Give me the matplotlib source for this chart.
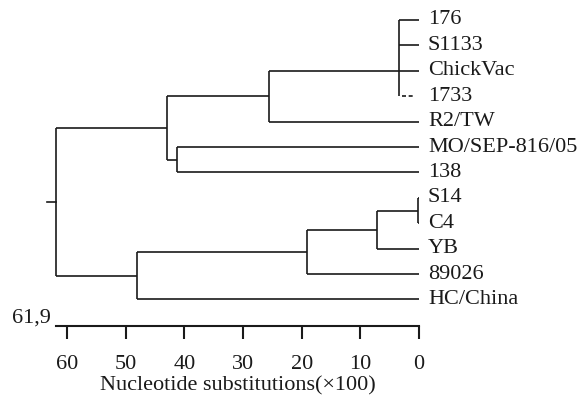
import matplotlib
matplotlib.use("Agg")
import matplotlib.pyplot as plt
from matplotlib.transforms import offset_copy

plt.rcParams['font.family'] = ['Liberation Serif', 'DejaVu Serif']

# leaves, top to bottom
leaves = ["176", "S1133", "ChickVac", "1733", "R2/TW", "MO/SEP-816/05", "138",
          "S14", "C4", "YB", "89026", "HC/China"]
# internal nodes: (name, children, height in substitutions x100)
node_names = ["A", "B", "C", "D", "E", "F", "G", "H", "root"]
node_children = [["176", "S1133", "ChickVac", "1733"], ["A", "R2/TW"], ["MO/SEP-816/05", "138"],
                 ["B", "C"], ["S14", "C4"], ["E", "YB"], ["F", "89026"], ["G", "HC/China"], ["D", "H"]]
node_heights = [3.4, 25.5, 41.2, 43.0, 0.2, 7.2, 19.1, 48.1, 61.9]
# node A attaches at the level of ChickVac
node_anchor = {"A": "ChickVac"}
dashed_leaves = ["1733"]
dashed_tip = 0.9
root_stub = 63.4
scale_max = 61.9
scale_ticks = [0, 10, 20, 30, 40, 50, 60]

fig = plt.figure(figsize=(5.88, 3.96), dpi=100)
ax = fig.add_axes([0, 0, 1, 1])
ax.set_xlim(71.4, -28.8)
ax.set_ylim(14.8, -0.787)

lw = 1.2
col = "#1a1a1a"
fs = 16
ypos = {name: i for i, name in enumerate(leaves)}
xpos = {name: 0.0 for name in leaves}
for name, ch, h in zip(node_names, node_children, node_heights):
    ys = [ypos[c] for c in ch]
    ax.plot([h, h], [min(ys), max(ys)], color=col, lw=lw, solid_capstyle='butt')
    for c in ch:
        if c in dashed_leaves:
            ax.plot([h - 0.5, dashed_tip], [ypos[c], ypos[c]], color=col, lw=lw,
                    linestyle=(0, (2.4, 1.6)), dash_capstyle='butt')
        else:
            ax.plot([h, xpos[c]], [ypos[c], ypos[c]], color=col, lw=lw, solid_capstyle='butt')
    ypos[name] = ypos[node_anchor[name]] if name in node_anchor else (min(ys) + max(ys)) / 2
    xpos[name] = h

ax.plot([root_stub, node_heights[-1]], [ypos["root"], ypos["root"]], color=col, lw=lw)

trans = offset_copy(ax.transData, fig=fig, x=9, y=0, units='dots')
for name in leaves:
    ax.text(0, ypos[name], name, transform=trans, ha='left', va='center', fontsize=fs, color=col)

# scale axis
for s in ['top', 'left', 'right']:
    ax.spines[s].set_visible(False)
ax.spines['bottom'].set_position(('data', 12.05))
ax.spines['bottom'].set_bounds(0, scale_max)
ax.spines['bottom'].set_linewidth(1.5)
ax.spines['bottom'].set_color(col)
ax.set_xticks(scale_ticks)
ax.set_xticklabels([str(t) for t in scale_ticks])
ax.tick_params(axis='x', direction='out', length=9, width=1.5, color=col, labelsize=fs, pad=12, labelcolor=col)
ax.set_yticks([])
ax.text(62.8, 11.75, "61,9", ha='right', va='center', fontsize=fs, color=col)
ax.text(30.9, 14.42, "Nucleotide substitutions(×100)", ha='center', va='center', fontsize=fs, color=col)

fig.savefig("out.png", dpi=100)
